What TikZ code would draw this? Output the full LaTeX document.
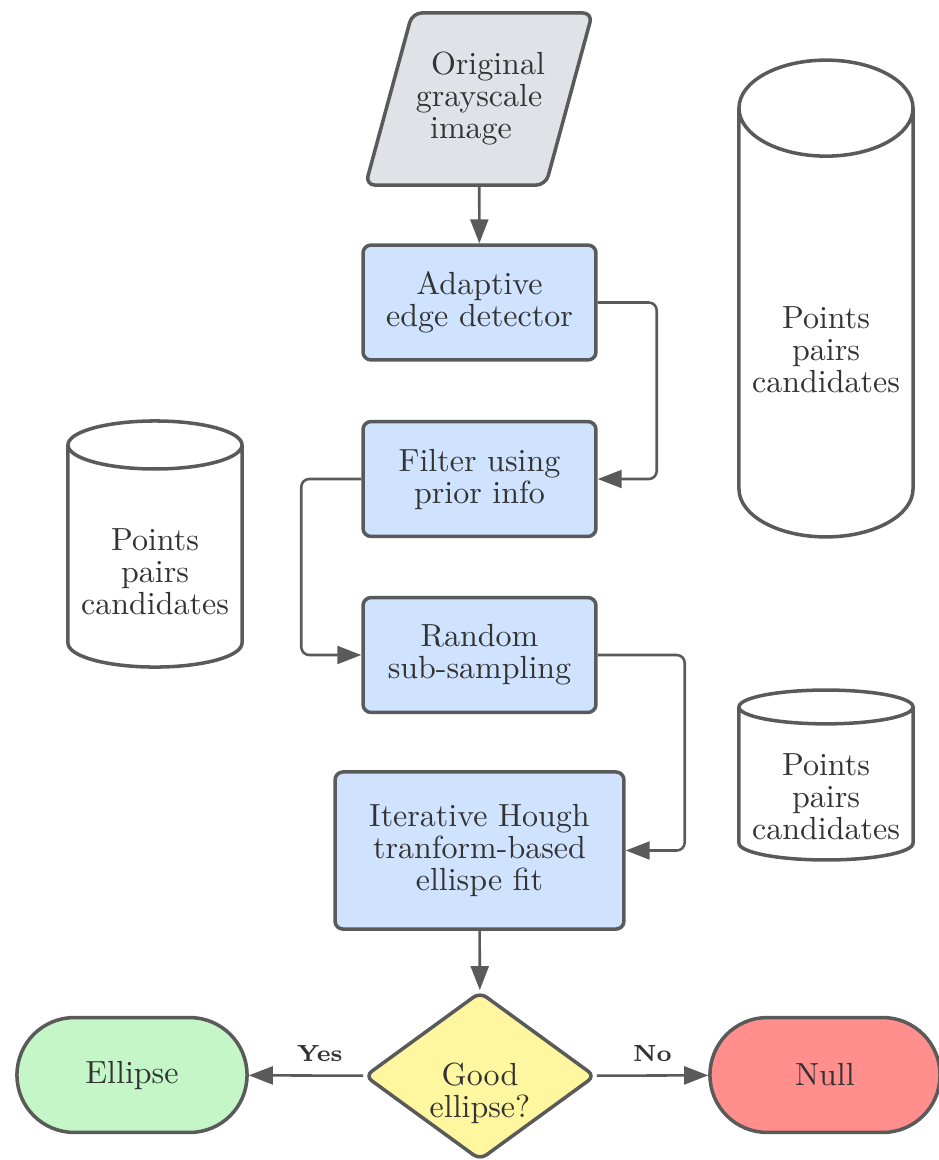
\documentclass[tikz,border=0pt]{standalone}
\usepackage{tikz}
\usetikzlibrary{shapes.geometric,arrows.meta,positioning}
\definecolor{linegray}{HTML}{5A5A5A}
\definecolor{textgray}{HTML}{333333}
\definecolor{inputfill}{HTML}{DFE2E6}
\definecolor{procfill}{HTML}{CFE3FF}
\definecolor{decfill}{HTML}{FFF6A0}
\definecolor{yesfill}{HTML}{C4F6C8}
\definecolor{nofill}{HTML}{FF8E8C}
\begin{document}
\begin{tikzpicture}[x=0.3125pt,y=-0.3125pt,
  every node/.style={text=textgray,font=\fontsize{10}{10}\selectfont,align=center},
  base/.style={draw=linegray,line width=1.1pt},
  io/.style={base,fill=inputfill,trapezium,trapezium left angle=68,trapezium right angle=112,
    trapezium stretches=true,inner xsep=0pt,rounded corners=3pt,minimum width=71.3pt,minimum height=53.8pt},
  proc/.style={base,fill=procfill,rounded corners=2.5pt,minimum width=72.8pt,minimum height=35.9pt},
  decision/.style={base,fill=decfill,diamond,aspect=1.37,inner sep=0pt,rounded corners=2.5pt,
    minimum width=71.9pt,minimum height=52.5pt},
  term/.style={base,rounded corners=17.9pt,minimum width=71.9pt,minimum height=35.9pt},
  store/.style={base,cylinder,shape border rotate=90,minimum width=54.4pt,anchor=shape center},
  link/.style={draw=linegray,line width=0.8pt,rounded corners=2.5pt,-{Triangle[length=7.5pt,width=5.6pt]}},
  lab/.style={font=\fontsize{7.3}{8}\bfseries\selectfont,above=0.5pt}]
\useasboundingbox (0,0) rectangle (939,1160);
% main chain
\node[io] (img) at (479,99) {\hspace*{5.6pt}Original\\grayscale\\image\hspace*{5pt}};
\node[proc] (edge) at (479.5,302.5) {Adaptive\\edge detector};
\node[proc] (filter) at (479.5,479) {Filter using\\prior info};
\node[proc] (sample) at (479.5,655) {Random\\sub-sampling};
\node[proc,minimum width=90.3pt,minimum height=49.1pt] (hough) at (479.5,850.5) {Iterative Hough\\tranform-based\\ellispe fit};
\node[decision] (good) at (480,1076) {\rule{0pt}{17.8pt}Good\\ellipse?};
\node[term,fill=yesfill] (found) at (132,1075) {Ellipse};
\node[term,fill=nofill] (null) at (825,1075) {Null};
% stores
\node[store,minimum height=149pt,aspect=0.568] (bigdb) at (826,298.5) {\phantom{candidates}};
\node (bigdbtext) at (826,350) {Points\\pairs\\candidates};
\node[store,minimum height=76.9pt,aspect=0.284] (leftdb) at (155,544) {\phantom{candidates}};
\node (leftdbtext) at (155,572) {Points\\pairs\\candidates};
\node[store,minimum height=53.1pt,aspect=0.2] (smalldb) at (826,775) {\phantom{candidates}};
\node (smalldbtext) at (826,797) {Points\\pairs\\candidates};
% connectors
\draw[link] (img) -- (edge);
\draw[link] (edge.east) -- ++(59,0) |- (filter.east);
\draw[link] (filter.west) -- ++(-60,0) |- (sample.west);
\draw[link] (sample.east) -- ++(87,0) |- (hough.east);
\draw[link] (hough) -- (good);
\draw[link] (good) -- node[lab,pos=0.38] {Yes} (found);
\draw[link] (good) -- node[lab] {No} (null);
\end{tikzpicture}
\end{document}
